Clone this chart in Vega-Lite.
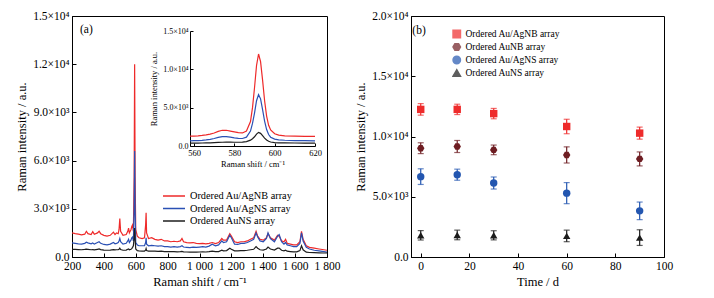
{
  "$schema": "https://vega.github.io/schema/vega-lite/v6.json",
  "padding": {"left": 15, "top": 9, "right": 5, "bottom": 5},
  "spacing": 13,
  "config": {
    "font": "Liberation Serif",
    "view": {"stroke": "black", "strokeWidth": 1},
    "axis": {
      "labelFont": "Liberation Serif", "titleFont": "Liberation Serif",
      "labelFontSize": 11.5, "titleFontSize": 12.5, "titleFontWeight": "normal",
      "labelColor": "black", "titleColor": "black",
      "domainColor": "black", "tickColor": "black", "grid": false,
      "tickSize": -4, "labelPadding": 7, "labelFlush": false
    },
    "legend": {"labelFont": "Liberation Serif", "labelFontSize": 9.5, "labelColor": "black"}
  },
  "datasets": {
    "spec": [
      {"s":200,"r":1500,"b":880,"k":480},{"s":220,"r":1450,"b":850,"k":470},{"s":240,"r":1420,"b":820,"k":460},
      {"s":260,"r":1380,"b":800,"k":450},{"s":280,"r":1420,"b":850,"k":470},{"s":290,"r":1600,"b":920,"k":490},
      {"s":300,"r":1450,"b":880,"k":480},{"s":320,"r":1400,"b":820,"k":450},{"s":330,"r":1580,"b":870,"k":460},
      {"s":340,"r":1420,"b":800,"k":440},{"s":360,"r":1500,"b":900,"k":480},{"s":370,"r":1600,"b":950,"k":500},
      {"s":380,"r":1450,"b":850,"k":460},{"s":400,"r":1350,"b":780,"k":430},{"s":420,"r":1300,"b":760,"k":420},
      {"s":440,"r":1350,"b":800,"k":430},{"s":460,"r":1550,"b":900,"k":460},{"s":470,"r":1400,"b":820,"k":440},
      {"s":480,"r":1500,"b":850,"k":450},{"s":490,"r":1450,"b":900,"k":460},{"s":495,"r":1700,"b":1000,"k":480},
      {"s":500,"r":2400,"b":1150,"k":550},{"s":505,"r":1600,"b":950,"k":470},{"s":520,"r":1350,"b":800,"k":420},
      {"s":540,"r":1400,"b":850,"k":430},{"s":550,"r":1600,"b":1000,"k":480},{"s":555,"r":1800,"b":1100,"k":500},
      {"s":560,"r":1500,"b":900,"k":450},{"s":570,"r":1700,"b":1050,"k":480},{"s":575,"r":1900,"b":1200,"k":520},
      {"s":580,"r":2000,"b":1250,"k":600},{"s":585,"r":1600,"b":1000,"k":700},{"s":590,"r":5000,"b":3000,"k":1200},
      {"s":593,"r":12000,"b":6600,"k":1800},{"s":596,"r":5000,"b":3000,"k":1100},{"s":600,"r":1700,"b":900,"k":500},
      {"s":610,"r":1300,"b":750,"k":400},{"s":620,"r":1200,"b":700,"k":380},{"s":640,"r":1150,"b":700,"k":370},
      {"s":655,"r":1200,"b":700,"k":370},{"s":662,"r":2000,"b":900,"k":420},{"s":665,"r":2750,"b":1200,"k":520},
      {"s":668,"r":1500,"b":800,"k":400},{"s":680,"r":1150,"b":700,"k":370},{"s":700,"r":1200,"b":720,"k":370},
      {"s":720,"r":1100,"b":700,"k":360},{"s":740,"r":1050,"b":680,"k":350},{"s":760,"r":1100,"b":700,"k":360},
      {"s":780,"r":1000,"b":650,"k":340},{"s":800,"r":1000,"b":650,"k":340},{"s":820,"r":950,"b":620,"k":330},
      {"s":840,"r":980,"b":640,"k":330},{"s":860,"r":950,"b":620,"k":320},{"s":880,"r":1000,"b":650,"k":330},
      {"s":890,"r":1150,"b":700,"k":350},{"s":900,"r":950,"b":620,"k":320},{"s":920,"r":900,"b":600,"k":310},
      {"s":940,"r":880,"b":580,"k":300},{"s":960,"r":900,"b":620,"k":310},{"s":980,"r":850,"b":600,"k":300},
      {"s":1000,"r":830,"b":620,"k":310},{"s":1020,"r":850,"b":640,"k":320},{"s":1040,"r":820,"b":620,"k":310},
      {"s":1060,"r":850,"b":680,"k":330},{"s":1080,"r":900,"b":800,"k":360},{"s":1100,"r":830,"b":700,"k":330},
      {"s":1120,"r":900,"b":750,"k":340},{"s":1140,"r":1150,"b":1000,"k":420},{"s":1150,"r":1050,"b":900,"k":380},
      {"s":1170,"r":1050,"b":950,"k":400},{"s":1190,"r":1450,"b":1350,"k":550},{"s":1200,"r":1300,"b":1200,"k":480},
      {"s":1220,"r":950,"b":800,"k":380},{"s":1240,"r":900,"b":780,"k":380},{"s":1260,"r":950,"b":850,"k":400},
      {"s":1280,"r":950,"b":850,"k":400},{"s":1300,"r":1000,"b":900,"k":420},{"s":1320,"r":1100,"b":1000,"k":450},
      {"s":1340,"r":1200,"b":1100,"k":480},{"s":1355,"r":1600,"b":1500,"k":650},{"s":1365,"r":1300,"b":1250,"k":550},
      {"s":1380,"r":1100,"b":1000,"k":450},{"s":1400,"r":1050,"b":950,"k":430},{"s":1420,"r":1200,"b":1150,"k":500},
      {"s":1430,"r":1450,"b":1500,"k":620},{"s":1445,"r":1200,"b":1150,"k":500},{"s":1470,"r":1050,"b":950,"k":430},
      {"s":1490,"r":1350,"b":1300,"k":550},{"s":1500,"r":1300,"b":1400,"k":560},{"s":1515,"r":1000,"b":950,"k":420},
      {"s":1530,"r":950,"b":800,"k":380},{"s":1540,"r":1100,"b":900,"k":420},{"s":1550,"r":850,"b":750,"k":360},
      {"s":1570,"r":800,"b":700,"k":340},{"s":1590,"r":750,"b":650,"k":320},{"s":1610,"r":750,"b":650,"k":320},
      {"s":1630,"r":950,"b":850,"k":400},{"s":1640,"r":1600,"b":1500,"k":700},{"s":1650,"r":1100,"b":1000,"k":450},
      {"s":1670,"r":700,"b":600,"k":300},{"s":1690,"r":600,"b":500,"k":280},{"s":1720,"r":550,"b":420,"k":270},
      {"s":1750,"r":500,"b":380,"k":260},{"s":1780,"r":450,"b":330,"k":250},{"s":1800,"r":420,"b":300,"k":250}
    ],
    "inset": [
      {"s":558,"r":1300,"b":680,"k":380},{"s":560,"r":1300,"b":690,"k":380},{"s":562,"r":1330,"b":700,"k":385},
      {"s":564,"r":1380,"b":730,"k":390},{"s":566,"r":1450,"b":790,"k":400},{"s":568,"r":1550,"b":870,"k":410},
      {"s":570,"r":1700,"b":980,"k":430},{"s":572,"r":1900,"b":1120,"k":460},{"s":574,"r":2050,"b":1220,"k":490},
      {"s":576,"r":2050,"b":1230,"k":500},{"s":578,"r":1950,"b":1150,"k":500},{"s":580,"r":1850,"b":1060,"k":490},
      {"s":582,"r":1750,"b":1000,"k":490},{"s":584,"r":1700,"b":980,"k":510},{"s":586,"r":1950,"b":1150,"k":580},
      {"s":588,"r":3200,"b":1950,"k":760},{"s":589,"r":5000,"b":2950,"k":950},{"s":590,"r":7600,"b":4300,"k":1200},
      {"s":591,"r":10500,"b":5900,"k":1550},{"s":592,"r":12000,"b":6700,"k":1780},{"s":593,"r":11000,"b":6150,"k":1650},
      {"s":594,"r":8600,"b":4750,"k":1350},{"s":595,"r":5900,"b":3250,"k":1030},{"s":596,"r":3900,"b":2150,"k":780},
      {"s":597,"r":2700,"b":1500,"k":620},{"s":598,"r":2100,"b":1150,"k":520},{"s":600,"r":1600,"b":900,"k":450},
      {"s":602,"r":1420,"b":810,"k":420},{"s":605,"r":1330,"b":750,"k":400},{"s":610,"r":1280,"b":710,"k":390},
      {"s":615,"r":1250,"b":690,"k":385},{"s":620,"r":1250,"b":680,"k":380}
    ],
    "time": [
      {"t":0,"v":12250,"e":480,"series":"Ordered Au/AgNB array"},
      {"t":15,"v":12250,"e":430,"series":"Ordered Au/AgNB array"},
      {"t":30,"v":11900,"e":430,"series":"Ordered Au/AgNB array"},
      {"t":60,"v":10830,"e":600,"series":"Ordered Au/AgNB array"},
      {"t":90,"v":10280,"e":500,"series":"Ordered Au/AgNB array"},
      {"t":0,"v":9030,"e":450,"series":"Ordered AuNB array"},
      {"t":15,"v":9170,"e":500,"series":"Ordered AuNB array"},
      {"t":30,"v":8890,"e":400,"series":"Ordered AuNB array"},
      {"t":60,"v":8470,"e":670,"series":"Ordered AuNB array"},
      {"t":90,"v":8140,"e":580,"series":"Ordered AuNB array"},
      {"t":0,"v":6670,"e":650,"series":"Ordered Au/AgNS array"},
      {"t":15,"v":6830,"e":460,"series":"Ordered Au/AgNS array"},
      {"t":30,"v":6140,"e":500,"series":"Ordered Au/AgNS array"},
      {"t":60,"v":5300,"e":875,"series":"Ordered Au/AgNS array"},
      {"t":90,"v":3830,"e":730,"series":"Ordered Au/AgNS array"},
      {"t":0,"v":1800,"e":390,"series":"Ordered AuNS array"},
      {"t":15,"v":1830,"e":400,"series":"Ordered AuNS array"},
      {"t":30,"v":1800,"e":380,"series":"Ordered AuNS array"},
      {"t":60,"v":1750,"e":480,"series":"Ordered AuNS array"},
      {"t":90,"v":1610,"e":650,"series":"Ordered AuNS array"}
    ]
  },
  "hconcat": [
    {
      "width": 255, "height": 241,
      "layer": [
        {
          "layer": [
            {
              "data": {"name": "spec"},
              "transform": [{"fold": ["r", "b", "k"], "as": ["series", "I"]}],
              "mark": {"type": "line", "strokeWidth": 1.2, "clip": true},
              "encoding": {
                "x": {"field": "s", "type": "quantitative", "scale": {"domain": [200, 1800], "nice": false},
                  "axis": {"values": [200,400,600,800,1000,1200,1400,1600,1800], "title": "Raman shift / cm⁻¹", "labelOverlap": false, "labelSeparation": 0,
                    "labelExpr": "datum.value >= 1000 ? '1 ' + format(datum.value - 1000, '03d') : format(datum.value, 'd')"}},
                "y": {"field": "I", "type": "quantitative", "scale": {"domain": [0, 15000], "nice": false},
                  "axis": {"values": [0,3000,6000,9000,12000,15000], "title": "Raman intensity / a.u.", "labelOverlap": false,
                    "labelExpr": "datum.value == 0 ? '0.0' : (datum.value < 10000 ? format(datum.value/1000, '.1f') + '×10³' : format(datum.value/10000, '.1f') + '×10⁴')"}},
                "color": {"field": "series", "type": "nominal",
                  "scale": {"domain": ["r", "b", "k"], "range": ["#ee2a2a", "#2a50b4", "#1e1e1e"]},
                  "legend": {"title": null, "orient": "none", "legendX": 90, "legendY": 175, "labelFontSize": 10.3,
                    "symbolType": "stroke", "symbolSize": 484, "symbolStrokeWidth": 1.6, "rowPadding": 1.5, "clipHeight": 10,
                    "labelExpr": "datum.value == 'r' ? 'Ordered Au/AgNB array' : (datum.value == 'b' ? 'Ordered Au/AgNS array' : 'Ordered AuNS array')"}},
                "order": {"field": "s"}
              }
            },
            {
              "data": {"values": [{"s": 290, "I": 14100, "lab": "(a)"}]},
              "mark": {"type": "text", "fontSize": 11.5, "font": "Liberation Serif", "align": "center", "baseline": "middle", "color": "black"},
              "encoding": {
                "x": {"field": "s", "type": "quantitative", "scale": {"domain": [200, 1800], "nice": false},
                  "axis": {"values": [200,400,600,800,1000,1200,1400,1600,1800], "title": "Raman shift / cm⁻¹", "labelOverlap": false, "labelSeparation": 0,
                    "labelExpr": "datum.value >= 1000 ? '1 ' + format(datum.value - 1000, '03d') : format(datum.value, 'd')"}},
                "y": {"field": "I", "type": "quantitative", "scale": {"domain": [0, 15000], "nice": false},
                  "axis": {"values": [0,3000,6000,9000,12000,15000], "title": "Raman intensity / a.u.", "labelOverlap": false,
                    "labelExpr": "datum.value == 0 ? '0.0' : (datum.value < 10000 ? format(datum.value/1000, '.1f') + '×10³' : format(datum.value/10000, '.1f') + '×10⁴')"}},
                "text": {"field": "lab"}
              }
            }
          ]
        },
        {
          "data": {"name": "inset"},
          "transform": [{"fold": ["r", "b", "k"], "as": ["series", "I"]}],
          "mark": {"type": "line", "strokeWidth": 1.2},
          "encoding": {
            "x": {"field": "s", "type": "quantitative", "scale": {"domain": [558, 620], "range": [118, 243], "nice": false},
              "axis": {"orient": "bottom", "offset": -111, "values": [560, 580, 600, 620], "title": "Raman shift / cm⁻¹", "labelOverlap": false,
                "labelFontSize": 8.5, "titleFontSize": 8.5, "tickSize": -3, "labelPadding": 5, "titlePadding": 3}},
            "y": {"field": "I", "type": "quantitative", "scale": {"domain": [0, 15000], "range": [130, 15], "nice": false},
              "axis": {"orient": "left", "offset": -118, "values": [0, 5000, 10000, 15000], "title": "Raman intensity / a.u.", "labelOverlap": false,
                "labelFontSize": 8, "titleFontSize": 8.5, "tickSize": -3, "labelPadding": 5, "titlePadding": 4,
                "labelExpr": "datum.value == 0 ? '0.0' : (datum.value < 10000 ? format(datum.value/1000, '.1f') + '×10³' : format(datum.value/10000, '.1f') + '×10⁴')"}},
            "color": {"field": "series", "type": "nominal", "legend": null},
            "order": {"field": "s"}
          }
        }
      ],
      "resolve": {"scale": {"x": "independent", "y": "independent"}, "axis": {"x": "independent", "y": "independent"}}
    },
    {
      "width": 253, "height": 241,
      "data": {"name": "time"},
      "layer": [
        {
          "mark": {"type": "errorbar", "ticks": {"size": 6}, "thickness": 1.2},
          "encoding": {
            "x": {"field": "t", "type": "quantitative", "title": "Time / d"},
            "y": {"field": "v", "type": "quantitative", "title": "Raman intensity / a.u."},
            "yError": {"field": "e"},
            "color": {"field": "series", "type": "nominal"}
          }
        },
        {
          "mark": {"type": "point", "filled": true, "size": 55, "opacity": 1},
          "encoding": {
            "x": {"field": "t", "type": "quantitative", "scale": {"domain": [-4, 100], "nice": false},
              "axis": {"values": [0, 20, 40, 60, 80, 100], "title": "Time / d", "labelOverlap": false}},
            "y": {"field": "v", "type": "quantitative", "scale": {"domain": [0, 20000], "nice": false},
              "axis": {"values": [0, 5000, 10000, 15000, 20000], "title": "Raman intensity / a.u.", "labelOverlap": false,
                "labelExpr": "datum.value == 0 ? '0.0' : (datum.value < 10000 ? format(datum.value/1000, '.1f') + '×10³' : format(datum.value/10000, '.1f') + '×10⁴')"}},
            "color": {"field": "series", "type": "nominal",
              "scale": {"domain": ["Ordered Au/AgNB array", "Ordered AuNB array", "Ordered Au/AgNS array", "Ordered AuNS array"],
                "range": ["#ee2b2b", "#6e1d22", "#2356b0", "#1b1b1b"]},
              "legend": {"title": null, "orient": "none", "legendX": 41, "legendY": 13, "symbolSize": 55, "rowPadding": 3, "clipHeight": 10}},
            "shape": {"field": "series", "type": "nominal",
              "scale": {"domain": ["Ordered Au/AgNB array", "Ordered AuNB array", "Ordered Au/AgNS array", "Ordered AuNS array"],
                "range": ["square", "M-1,0L-0.5,-0.866L0.5,-0.866L1,0L0.5,0.866L-0.5,0.866Z", "circle", "triangle-up"]},
              "legend": {"title": null, "orient": "none", "legendX": 41, "legendY": 13, "symbolSize": 55, "rowPadding": 3, "clipHeight": 10}}
          }
        },
        {
          "data": {"values": [{"lab": "(b)"}]},
          "mark": {"type": "text", "fontSize": 11.5, "font": "Liberation Serif", "align": "center", "baseline": "middle", "color": "black"},
          "encoding": {
            "x": {"datum": -0.7, "type": "quantitative"},
            "y": {"datum": 18750, "type": "quantitative"},
            "text": {"field": "lab"}
          }
        }
      ]
    }
  ],
  "resolve": {"scale": {"x": "independent", "y": "independent", "color": "independent", "shape": "independent"}}
}
